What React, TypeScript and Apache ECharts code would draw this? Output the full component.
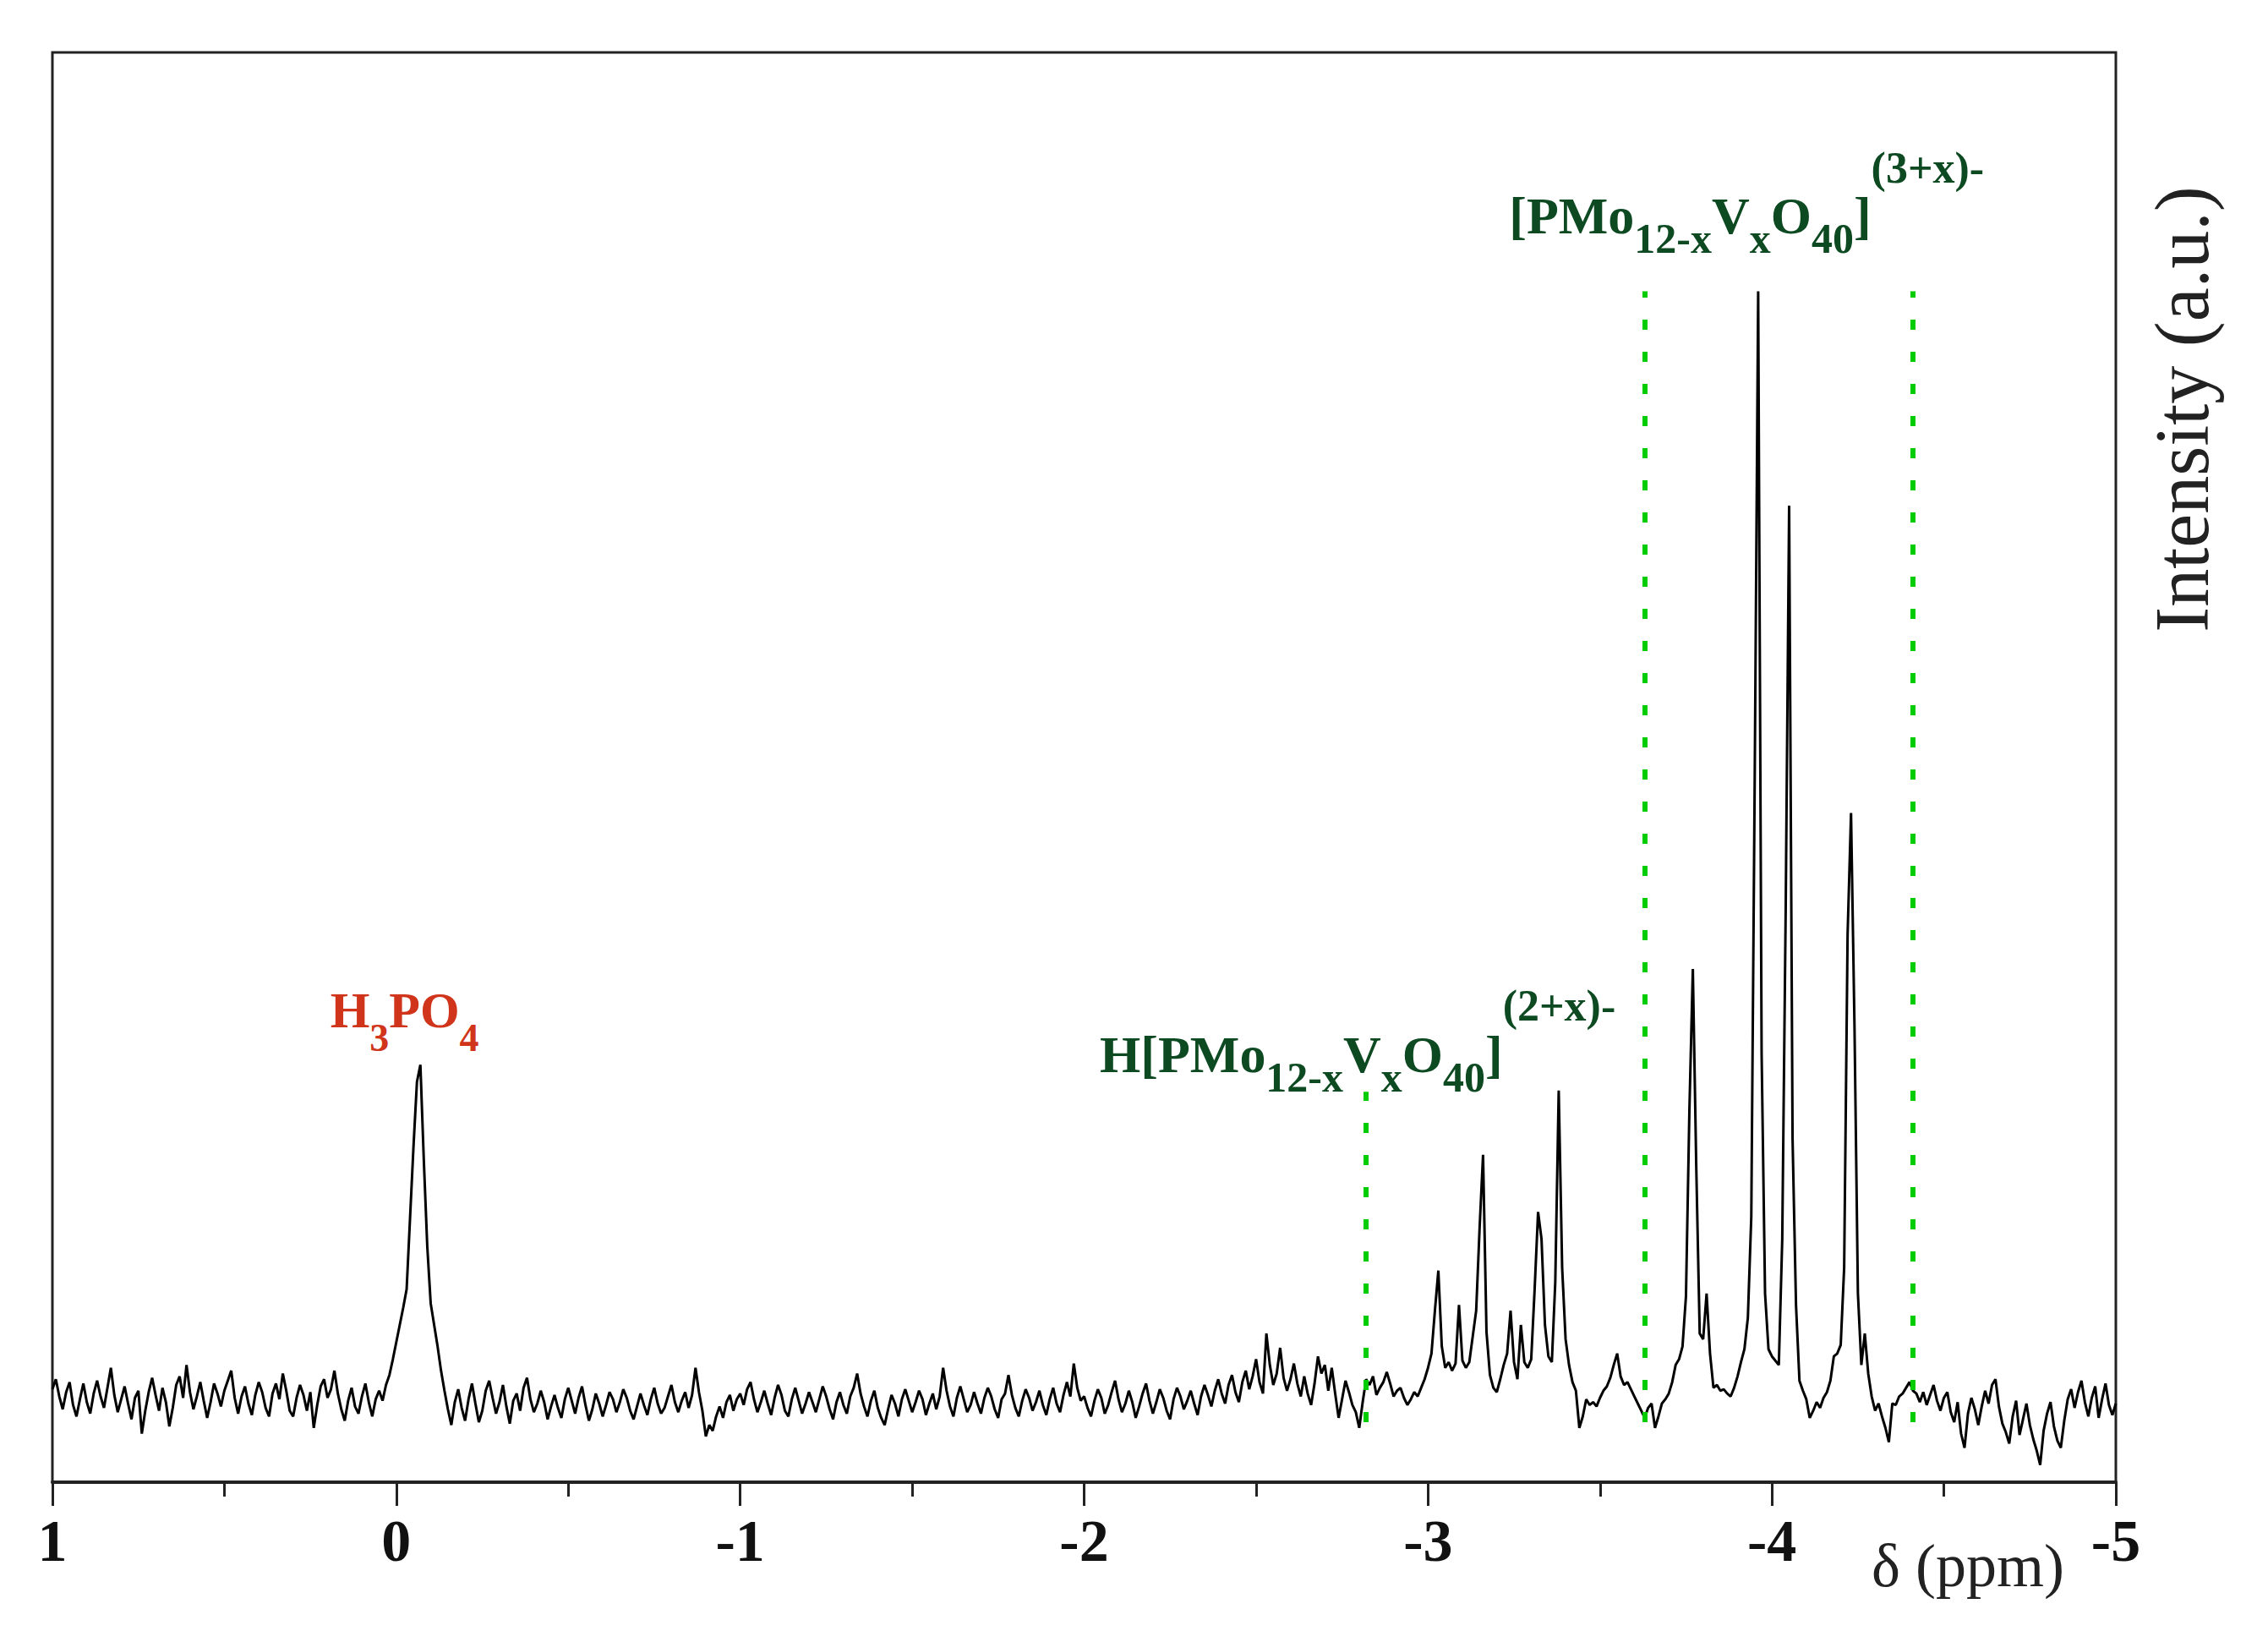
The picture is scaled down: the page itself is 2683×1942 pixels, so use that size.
import React, { useEffect, useRef } from 'react';
import * as echarts from 'echarts';

// ---- data: 31P NMR spectrum, intensity (a.u.) sampled every 0.01 ppm from 1.00 to -5.00 ----
const PPM_START = 1.0;
const PPM_STEP = 0.01;

// 1.00 .. 0.01 ppm
const SEG_A = [
  6.5, 7.2, 6.0, 5.1, 6.3, 7.0, 5.4, 4.6, 5.8, 6.9,
  5.6, 4.8, 6.2, 7.1, 6.0, 5.2, 6.6, 8.0, 6.1, 4.9,
  5.8, 6.7, 5.5, 4.4, 5.9, 6.4, 3.4, 5.0, 6.3, 7.3,
  6.1, 5.0, 6.6, 5.6, 3.9, 5.2, 6.8, 7.4, 5.9, 8.2,
  6.3, 5.1, 6.0, 7.0, 5.7, 4.5, 5.6, 6.9, 6.2, 5.3,
  6.4, 7.1, 7.8, 5.9, 4.8, 6.0, 6.7, 5.5, 4.7, 6.1,
  7.0, 6.3, 5.2, 4.6, 6.2, 6.9, 5.8, 7.6, 6.4, 5.0,
  4.6, 5.9, 6.8, 6.1, 5.0, 6.3, 3.8, 5.4, 6.7, 7.2,
  5.9, 6.5, 7.8, 6.2, 5.1, 4.3, 5.7, 6.6, 5.3, 4.8,
  6.0, 6.9, 5.6, 4.6, 5.8, 6.4, 5.7, 6.8, 7.5, 8.6,
];
// 0.00 .. -0.99 ppm (H3PO4 reference peak)
const SEG_B = [
  9.8, 11.0, 12.2, 13.5, 18.5, 23.5, 28.0, 29.2, 22.5, 16.5,
  12.5, 11.0, 9.5, 7.8, 6.4, 5.1, 4.0, 5.6, 6.5, 5.2,
  4.3, 5.8, 6.9, 5.5, 4.2, 5.0, 6.4, 7.1, 5.9, 4.8,
  5.6, 6.8, 5.3, 4.1, 5.7, 6.2, 5.0, 6.6, 7.3, 5.8,
  4.9, 5.5, 6.4, 5.6, 4.4, 5.3, 6.1, 5.2, 4.5, 5.8,
  6.6, 5.7, 4.8, 5.9, 6.7, 5.4, 4.3, 5.1, 6.2, 5.5,
  4.6, 5.4, 6.3, 5.8, 4.9, 5.6, 6.5, 5.9, 5.0, 4.4,
  5.3, 6.2, 5.4, 4.7, 5.8, 6.6, 5.5, 4.8, 5.2, 6.0,
  6.8, 5.6, 4.9, 5.7, 6.3, 5.2, 6.1, 8.0, 6.3, 5.0,
  3.2, 4.0, 3.6, 4.6, 5.3, 4.5, 5.6, 6.1, 5.0, 5.8,
];
// -1.00 .. -1.99 ppm
const SEG_C = [
  6.2, 5.4, 6.5, 7.0, 5.8, 4.9, 5.6, 6.4, 5.5, 4.7,
  5.9, 6.8, 6.1, 5.0, 4.6, 5.8, 6.6, 5.7, 4.8, 5.5,
  6.3, 5.6, 4.9, 5.8, 6.7, 6.0, 5.1, 4.4, 5.6, 6.3,
  5.4, 4.8, 6.0, 6.6, 7.6, 6.2, 5.3, 4.6, 5.7, 6.4,
  5.2, 4.5, 4.0, 5.1, 6.1, 5.5, 4.6, 5.8, 6.5, 5.7,
  4.9, 5.6, 6.4, 5.8, 4.7, 5.5, 6.2, 5.1, 6.0, 8.0,
  6.4, 5.3, 4.6, 5.9, 6.7, 5.8, 4.9, 5.4, 6.3, 5.5,
  4.8, 5.9, 6.6, 6.0, 5.1, 4.5, 5.8, 6.2, 7.5, 6.1,
  5.2, 4.6, 5.7, 6.5, 5.9, 5.0, 5.6, 6.4, 5.4, 4.7,
  5.8, 6.6, 5.5, 4.9, 6.1, 7.0, 6.0, 8.3, 6.6, 5.7,
];
// -2.00 .. -2.99 ppm
const SEG_D = [
  6.0, 5.2, 4.6, 5.7, 6.5, 5.9, 4.8, 5.4, 6.3, 7.1,
  5.8, 4.9, 5.5, 6.4, 5.6, 4.5, 5.3, 6.2, 6.9, 5.7,
  4.8, 5.6, 6.5, 5.9, 5.0, 4.4, 5.8, 6.6, 6.0, 5.1,
  5.7, 6.4, 5.5, 4.7, 6.0, 6.8, 6.1, 5.3, 6.4, 7.2,
  6.2, 5.5, 6.8, 7.5, 6.3, 5.6, 7.0, 7.8, 6.5, 7.4,
  8.6, 7.0, 6.2, 10.4, 8.2, 6.8, 7.6, 9.4, 7.3, 6.4,
  7.2, 8.3, 6.9, 6.0, 7.4, 6.2, 5.4, 6.9, 8.8, 7.6,
  8.2, 6.4, 8.0, 6.2, 4.5, 5.8, 7.1, 6.3, 5.4, 4.9,
  3.8, 5.6, 7.2, 6.8, 7.4, 6.1, 6.6, 7.0, 7.7, 6.9,
  6.0, 6.4, 6.6, 5.9, 5.4, 5.8, 6.3, 6.0, 6.6, 7.2,
];
// -3.00 .. -3.99 ppm (H[PMo12-xVxO40] and first [PMo12-xVxO40] signals)
const SEG_E = [
  8.0, 9.0, 12.0, 14.8, 9.5, 8.0, 8.4, 7.8, 8.3, 12.4,
  8.5, 8.0, 8.4, 10.2, 12.0, 17.8, 22.9, 10.5, 7.5, 6.6,
  6.3, 7.2, 8.2, 9.0, 12.0, 8.4, 7.2, 11.0, 8.4, 8.0,
  8.6, 13.5, 18.9, 17.0, 11.0, 8.8, 8.4, 14.0, 27.4, 15.0,
  10.0, 8.2, 7.0, 6.4, 3.8, 4.6, 5.8, 5.4, 5.6, 5.3,
  5.9, 6.4, 6.7, 7.3, 8.2, 9.0, 7.4, 6.8, 7.0, 6.5,
  6.0, 5.5, 5.0, 4.5, 5.2, 5.5, 3.8, 4.6, 5.5, 5.8,
  6.2, 7.0, 8.2, 8.6, 9.5, 13.0, 26.0, 35.9, 22.0, 10.4,
  10.0, 13.2, 9.0, 6.6, 6.8, 6.4, 6.5, 6.2, 6.0, 6.6,
  7.4, 8.4, 9.3, 11.5, 18.6, 49.4, 83.3, 30.0, 13.2, 9.3,
];
// -4.00 .. -5.00 ppm
const SEG_F = [
  8.8, 8.5, 8.2, 17.0, 40.0, 68.3, 24.0, 12.4, 7.1, 6.4,
  5.8, 4.5, 5.0, 5.6, 5.2, 5.9, 6.3, 7.1, 8.8, 9.0,
  9.6, 15.0, 38.3, 46.8, 32.0, 13.2, 8.2, 10.4, 7.6, 6.0,
  5.0, 5.5, 4.6, 3.8, 2.8, 5.5, 5.4, 6.0, 6.2, 6.6,
  7.0, 6.4, 6.2, 5.6, 6.3, 5.4, 6.1, 6.8, 5.7, 5.0,
  5.9, 6.3, 4.9, 4.2, 5.6, 3.4, 2.4, 4.8, 5.9, 5.1,
  4.0, 5.3, 6.4, 5.5, 6.8, 7.2, 5.3, 4.1, 3.5, 2.7,
  4.6, 5.7, 3.3, 4.4, 5.5, 4.0, 3.0, 2.2, 1.2, 3.6,
  4.8, 5.6, 3.9, 2.9, 2.4, 4.3, 5.8, 6.5, 5.2, 6.3,
  7.1, 5.6, 4.6, 5.9, 6.7, 4.5, 5.8, 6.9, 5.4, 4.7,
  5.5,
];

const INTENSITY = [...SEG_A, ...SEG_B, ...SEG_C, ...SEG_D, ...SEG_E, ...SEG_F];
const SPECTRUM = INTENSITY.map((v, i) => [Number((PPM_START - i * PPM_STEP).toFixed(2)), v]);

// axis
const X_MIN = -5;
const X_MAX = 1;
const X_INTERVAL = 1;
const Y_MIN = 0;
const Y_MAX = 100;

// dotted marker lines (ppm) and their extent (intensity)
const MARKER_PPM = [-2.82, -3.63, -4.41];
const MARKER_TOP = [27.3, 83.3, 83.3];
const MARKER_BOTTOM = 4.2;

// annotation texts
const LABEL_H3PO4 = '{m|H}{s|3}{m|PO}{s|4}';
const LABEL_HPMOV = '{m|H[PMo}{s|12-x}{m|V}{s|x}{m|O}{s|40}{m|]}{p|(2+x)-}';
const LABEL_PMOV = '{m|[PMo}{s|12-x}{m|V}{s|x}{m|O}{s|40}{m|]}{p|(3+x)-}';
// anchor (top-left) of each annotation, in data coordinates [ppm, intensity]
const ANCHOR_H3PO4 = [0.191, 34.77];
const ANCHOR_HPMOV = [-2.047, 34.83];
const ANCHOR_PMOV = [-3.237, 93.44];

const X_NAME = 'δ (ppm)';
const Y_NAME = 'Intensity (a.u.)';

const SERIF = '"Liberation Serif", "Times New Roman", serif';
const RED = '#d0341a';
const DGREEN = '#0d4a22';
const LGREEN = '#00cc00';

export default function App() {
  const ref = useRef<HTMLDivElement>(null);

  useEffect(() => {
    if (!ref.current) return;
    const chart = echarts.init(ref.current, undefined, { renderer: 'svg' });

    const redRich = {
      m: { fontFamily: SERIF, fontWeight: 'bold', fontSize: 60, lineHeight: 60, color: RED, verticalAlign: 'top' },
      s: { fontFamily: SERIF, fontWeight: 'bold', fontSize: 46, lineHeight: 46, color: RED, verticalAlign: 'top', padding: [40, 0, 0, 0] },
    };
    const greenRich = {
      m: { fontFamily: SERIF, fontWeight: 'bold', fontSize: 62, lineHeight: 62, color: DGREEN, verticalAlign: 'top', padding: [52, 0, 0, 0] },
      s: { fontFamily: SERIF, fontWeight: 'bold', fontSize: 50, lineHeight: 50, color: DGREEN, verticalAlign: 'top', padding: [85, 0, 0, 0] },
      p: { fontFamily: SERIF, fontWeight: 'bold', fontSize: 52, lineHeight: 52, color: DGREEN, verticalAlign: 'top' },
    };
    const mkLabel = (formatter: string, rich: any) => ({
      show: true,
      position: [0, 0],
      align: 'left',
      verticalAlign: 'top',
      formatter,
      rich,
    });

    chart.setOption({
      animation: false,
      backgroundColor: '#ffffff',
      grid: {
        left: 62,
        right: 180,
        top: 62,
        bottom: 189,
        show: true,
        borderColor: '#222',
        borderWidth: 3,
        containLabel: false,
      },
      xAxis: {
        type: 'value',
        min: X_MIN,
        max: X_MAX,
        interval: X_INTERVAL,
        inverse: true,
        axisLine: { show: true, onZero: false, lineStyle: { color: '#222', width: 4 } },
        axisTick: { show: true, inside: false, length: 28, lineStyle: { color: '#222', width: 3 } },
        minorTick: { show: true, splitNumber: 2, length: 17, lineStyle: { color: '#222', width: 3 } },
        splitLine: { show: false },
        axisLabel: {
          show: true,
          margin: 34,
          fontFamily: SERIF,
          fontWeight: 'bold',
          fontSize: 70,
          color: '#111',
        },
      },
      yAxis: {
        type: 'value',
        min: Y_MIN,
        max: Y_MAX,
        show: false,
      },
      series: [
        {
          type: 'line',
          data: SPECTRUM,
          showSymbol: false,
          symbol: 'none',
          lineStyle: { color: '#000', width: 3 },
          z: 3,
          markLine: {
            silent: true,
            symbol: ['none', 'none'],
            label: { show: false },
            lineStyle: { color: LGREEN, width: 6, type: [12, 26] },
            data: MARKER_PPM.map((x, k) => [
              { coord: [x, MARKER_BOTTOM] },
              { coord: [x, MARKER_TOP[k]] },
            ]),
          },
          markPoint: {
            silent: true,
            symbol: 'rect',
            symbolSize: 1,
            itemStyle: { color: 'rgba(0,0,0,0)' },
            data: [
              { coord: ANCHOR_H3PO4, label: mkLabel(LABEL_H3PO4, redRich) },
              { coord: ANCHOR_HPMOV, label: mkLabel(LABEL_HPMOV, greenRich) },
              { coord: ANCHOR_PMOV, label: mkLabel(LABEL_PMOV, greenRich) },
            ],
          },
        },
      ],
      graphic: [
        {
          type: 'text',
          x: 2328,
          y: 1852,
          silent: true,
          style: {
            text: X_NAME,
            fontFamily: SERIF,
            fontSize: 72,
            fill: '#222',
            align: 'center',
            verticalAlign: 'middle',
            textAlign: 'center',
            textVerticalAlign: 'middle',
          },
        },
        {
          type: 'text',
          x: 2581,
          y: 484,
          rotation: Math.PI / 2,
          silent: true,
          style: {
            text: Y_NAME,
            fontFamily: SERIF,
            fontSize: 90,
            fill: '#222',
            align: 'center',
            verticalAlign: 'middle',
            textAlign: 'center',
            textVerticalAlign: 'middle',
          },
        },
      ],
    });

    return () => chart.dispose();
  }, []);

  return (
    <div
      ref={ref}
      style={{ position: 'fixed', left: 0, top: 0, width: 2683, height: 1942, background: '#fff' }}
    />
  );
}
